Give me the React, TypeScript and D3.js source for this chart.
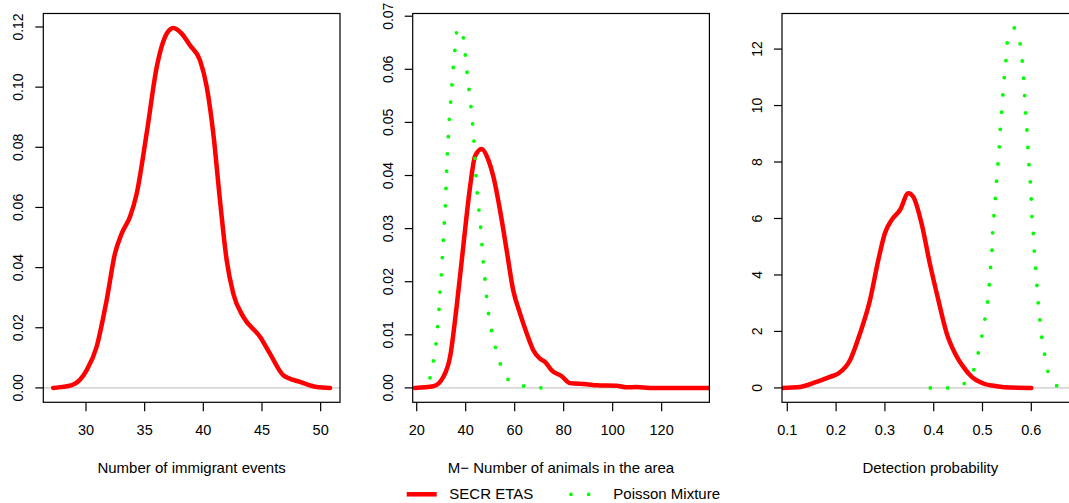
import React from "react";
import * as d3 from "d3";

// ---------- Data ----------
// Panel 1: Number of immigrant events (SECR ETAS density)
const immigrantX = [27.2, 28.8, 30.06, 30.9, 31.76, 32.47, 33.04, 33.75, 34.32, 35.17, 36.03, 36.88, 37.44, 38.16, 38.86, 39.72, 40.29, 40.85, 41.42, 41.99, 42.55, 43.41, 44.83, 45.68, 46.82, 48.24, 49.66, 50.8];
const immigrantY = [0, 0.0009, 0.0059, 0.0136, 0.0292, 0.0447, 0.0513, 0.0569, 0.0646, 0.0846, 0.1067, 0.1178, 0.1197, 0.1178, 0.1139, 0.1089, 0.1001, 0.0846, 0.0624, 0.0425, 0.0314, 0.0236, 0.017, 0.0114, 0.0042, 0.002, 0.0003, 0];

// Panel 2: M - number of animals in the area
const animalsSecrX = [19.3, 26.8, 30.9, 33.6, 36.3, 39.0, 41.8, 43.8, 46.5, 49.2, 51.3, 54.0, 56.7, 59.4, 62.2, 64.9, 67.6, 70.3, 72.4, 75.1, 79.2, 82.6, 89.4, 93.5, 101.6, 105.7, 109.8, 115.2, 140];
const animalsSecrY = [0, 0.0003, 0.0021, 0.0058, 0.0153, 0.0266, 0.0379, 0.0436, 0.045, 0.043, 0.0398, 0.0335, 0.026, 0.0184, 0.014, 0.0103, 0.0071, 0.0055, 0.0049, 0.0033, 0.0022, 0.0009, 0.0007, 0.0005, 0.0004, 0.0001, 0.00015, 0, 0];
const animalsPoisX = [25.43, 26.79, 27.88, 28.56, 29.10, 29.51, 30.05, 30.46, 30.87, 31.28, 31.69, 31.96, 32.23, 32.50, 32.91, 33.32, 33.86, 34.41, 34.95, 35.63, 36.31, 37.54, 39.03, 39.85, 40.53, 41.35, 42.16, 42.84, 43.39, 44.20, 44.75, 45.43, 46.11, 46.65, 47.20, 47.88, 48.56, 49.37, 50.60, 52.23, 54.27, 57.67, 64.07, 71.0];
const animalsPoisY = [0.00189, 0.00504, 0.00831, 0.01152, 0.01479, 0.01806, 0.02133, 0.0246, 0.02787, 0.03114, 0.03441, 0.03762, 0.04089, 0.04416, 0.04743, 0.0507, 0.05397, 0.05724, 0.06051, 0.06378, 0.06699, 0.06781, 0.06592, 0.06271, 0.05944, 0.05617, 0.0529, 0.04969, 0.04642, 0.03994, 0.03667, 0.0334, 0.03013, 0.02686, 0.02359, 0.02032, 0.01711, 0.01384, 0.01063, 0.00742, 0.00434, 0.00145, 0.00032, 0];

// Panel 3: Detection probability
const detectSecrX = [0.0891, 0.126, 0.16, 0.1875, 0.2045, 0.2285, 0.249, 0.2695, 0.2865, 0.3, 0.314, 0.331, 0.348, 0.358, 0.375, 0.392, 0.4095, 0.4266, 0.4437, 0.4607, 0.478, 0.5016, 0.529, 0.5564, 0.6];
const detectSecrY = [0, 0.035, 0.213, 0.39, 0.51, 0.98, 1.93, 3.11, 4.53, 5.48, 5.95, 6.3, 6.89, 6.77, 5.83, 4.41, 3.11, 1.93, 1.22, 0.745, 0.39, 0.156, 0.06, 0.012, 0];
const detectPoisX = [0.3931, 0.4286, 0.4628, 0.4826, 0.4914, 0.4990, 0.5051, 0.5106, 0.5140, 0.5167, 0.5195, 0.5208, 0.5236, 0.5263, 0.5290, 0.5318, 0.5345, 0.5365, 0.5393, 0.5420, 0.5447, 0.5482, 0.5509, 0.5618, 0.5646, 0.5775, 0.5816, 0.5844, 0.5864, 0.5885, 0.5912, 0.5932, 0.5953, 0.5980, 0.6000, 0.6014, 0.6042, 0.6062, 0.6090, 0.6117, 0.6144, 0.6178, 0.6219, 0.6281, 0.6349, 0.6533];
const detectPoisY = [0, 0, 0.155, 0.663, 1.254, 1.857, 2.46, 3.074, 3.689, 4.292, 4.906, 5.521, 6.124, 6.738, 7.353, 7.968, 8.583, 9.197, 9.812, 10.426, 11.029, 11.644, 12.259, 12.684, 12.75, 12.152, 11.538, 10.935, 10.32, 9.706, 9.091, 8.476, 7.862, 7.259, 6.644, 6.029, 5.415, 4.8, 4.185, 3.571, 2.956, 2.353, 1.739, 1.124, 0.533, 0.06];

// Ticks and labels
const xTicks1 = [30, 35, 40, 45, 50];
const xTicks2 = [20, 40, 60, 80, 100, 120];
const xTicks3 = [0.1, 0.2, 0.3, 0.4, 0.5, 0.6];
const yTicks1 = [0, 0.02, 0.04, 0.06, 0.08, 0.1, 0.12];
const yTicks2 = [0, 0.01, 0.02, 0.03, 0.04, 0.05, 0.06, 0.07];
const yTicks3 = [0, 2, 4, 6, 8, 10, 12];
const xTitles = ["Number of immigrant events", "M\u2212 Number of animals in the area", "Detection probability"];
const legendLabels = ["SECR ETAS", "Poisson Mixture"];

// ---------- Layout ----------
const W = 1069;
const H = 503;
const TOP = 13.5;
const BOTTOM = 402.3;
const PW = 296.7;
const FONT = "'Liberation Sans', Arial, Helvetica, sans-serif";
const RED = "#ff0000";
const GREEN = "#00ff00";

type Series = { xs: number[]; ys: number[]; kind: "solid" | "dots" };
type PanelSpec = {
  left: number;
  xdom: [number, number];
  ymax: number;
  xticks: number[];
  yticks: number[];
  xfmt: (v: number) => string;
  yfmt: (v: number) => string;
  title: string;
  series: Series[];
};

const panels: PanelSpec[] = [
  {
    left: 43.3,
    xdom: [26.36, 51.65],
    ymax: 0.1197,
    xticks: xTicks1,
    yticks: yTicks1,
    xfmt: (v) => String(v),
    yfmt: (v) => v.toFixed(2),
    title: xTitles[0],
    series: [{ xs: immigrantX, ys: immigrantY, kind: "solid" }],
  },
  {
    left: 412.7,
    xdom: [18.365, 139.5],
    ymax: 0.0678,
    xticks: xTicks2,
    yticks: yTicks2,
    xfmt: (v) => String(v),
    yfmt: (v) => v.toFixed(2),
    title: xTitles[1],
    series: [
      { xs: animalsSecrX, ys: animalsSecrY, kind: "solid" },
      { xs: animalsPoisX, ys: animalsPoisY, kind: "dots" },
    ],
  },
  {
    left: 782,
    xdom: [0.08914, 0.6971],
    ymax: 12.75,
    xticks: xTicks3,
    yticks: yTicks3,
    xfmt: (v) => v.toFixed(1),
    yfmt: (v) => String(v),
    title: xTitles[2],
    series: [
      { xs: detectSecrX, ys: detectSecrY, kind: "solid" },
      { xs: detectPoisX, ys: detectPoisY, kind: "dots" },
    ],
  },
];

function Panel({ p, idx }: { p: PanelSpec; idx: number }) {
  const x = d3.scaleLinear().domain(p.xdom).range([p.left, p.left + PW]);
  const y = d3
    .scaleLinear()
    .domain([-0.04 * p.ymax, 1.04 * p.ymax])
    .range([BOTTOM, TOP]);
  const clipId = `clip-${idx}`;
  const cx = p.left + PW / 2;
  return (
    <g>
      <defs>
        <clipPath id={clipId}>
          <rect x={p.left} y={TOP} width={PW} height={BOTTOM - TOP} />
        </clipPath>
      </defs>
      <g clipPath={`url(#${clipId})`}>
        <line x1={p.left} x2={p.left + PW} y1={y(0)} y2={y(0)} stroke="#c8c8c8" strokeWidth={1.2} />
        {p.series.map((s, i) => {
          const pts: [number, number][] = s.xs.map((xv, k) => [xv, s.ys[k]]);
          const gen = d3
            .line<[number, number]>()
            .x((d) => x(d[0]))
            .y((d) => y(d[1]))
            .curve(d3.curveMonotoneX);
          const d = gen(pts) || "";
          return s.kind === "solid" ? (
            <path key={i} d={d} fill="none" stroke={RED} strokeWidth={4.5} strokeLinejoin="round" strokeLinecap="round" />
          ) : (
            <path key={i} d={d} fill="none" stroke={GREEN} strokeWidth={3.8} strokeDasharray="0 17.3" strokeLinecap="round" />
          );
        })}
      </g>
      <rect x={p.left} y={TOP} width={PW} height={BOTTOM - TOP} fill="none" stroke="#000" strokeWidth={1.2} />
      {/* x axis */}
      {p.xticks.map((t) => (
        <g key={`xt${t}`}>
          <line x1={x(t)} x2={x(t)} y1={BOTTOM} y2={BOTTOM + 9} stroke="#000" strokeWidth={1.2} />
          <text x={x(t)} y={435} textAnchor="middle" fontSize={14.5} fontFamily={FONT} fill="#000">
            {p.xfmt(t)}
          </text>
        </g>
      ))}
      {/* y axis */}
      {p.yticks.map((t) => (
        <g key={`yt${t}`}>
          <line x1={p.left - 8} x2={p.left} y1={y(t)} y2={y(t)} stroke="#000" strokeWidth={1.2} />
          <text
            transform={`translate(${p.left - 20},${y(t)}) rotate(-90)`}
            textAnchor="middle"
            fontSize={14}
            fontFamily={FONT}
            fill="#000"
          >
            {p.yfmt(t)}
          </text>
        </g>
      ))}
      <text x={cx} y={472.5} textAnchor="middle" fontSize={15} fontFamily={FONT} fill="#000">
        {p.title}
      </text>
    </g>
  );
}

export default function App() {
  return (
    <svg
      width={W}
      height={H}
      viewBox={`0 0 ${W} ${H}`}
      style={{ position: "absolute", left: 0, top: 0, background: "#fff" }}
    >
      <rect x={0} y={0} width={W} height={H} fill="#fff" />
      {panels.map((p, i) => (
        <Panel key={i} p={p} idx={i} />
      ))}
      {/* legend */}
      <line x1={406.7} x2={436.7} y1={494.3} y2={494.3} stroke={RED} strokeWidth={4.5} />
      <text x={449.3} y={499.3} fontSize={15} fontFamily={FONT} fill="#000">
        {legendLabels[0]}
      </text>
      <line x1={571} x2={592} y1={494.3} y2={494.3} stroke={GREEN} strokeWidth={3.8} strokeDasharray="0 17.7" strokeLinecap="round" />
      <text x={613.3} y={499.3} fontSize={15} fontFamily={FONT} fill="#000">
        {legendLabels[1]}
      </text>
    </svg>
  );
}
